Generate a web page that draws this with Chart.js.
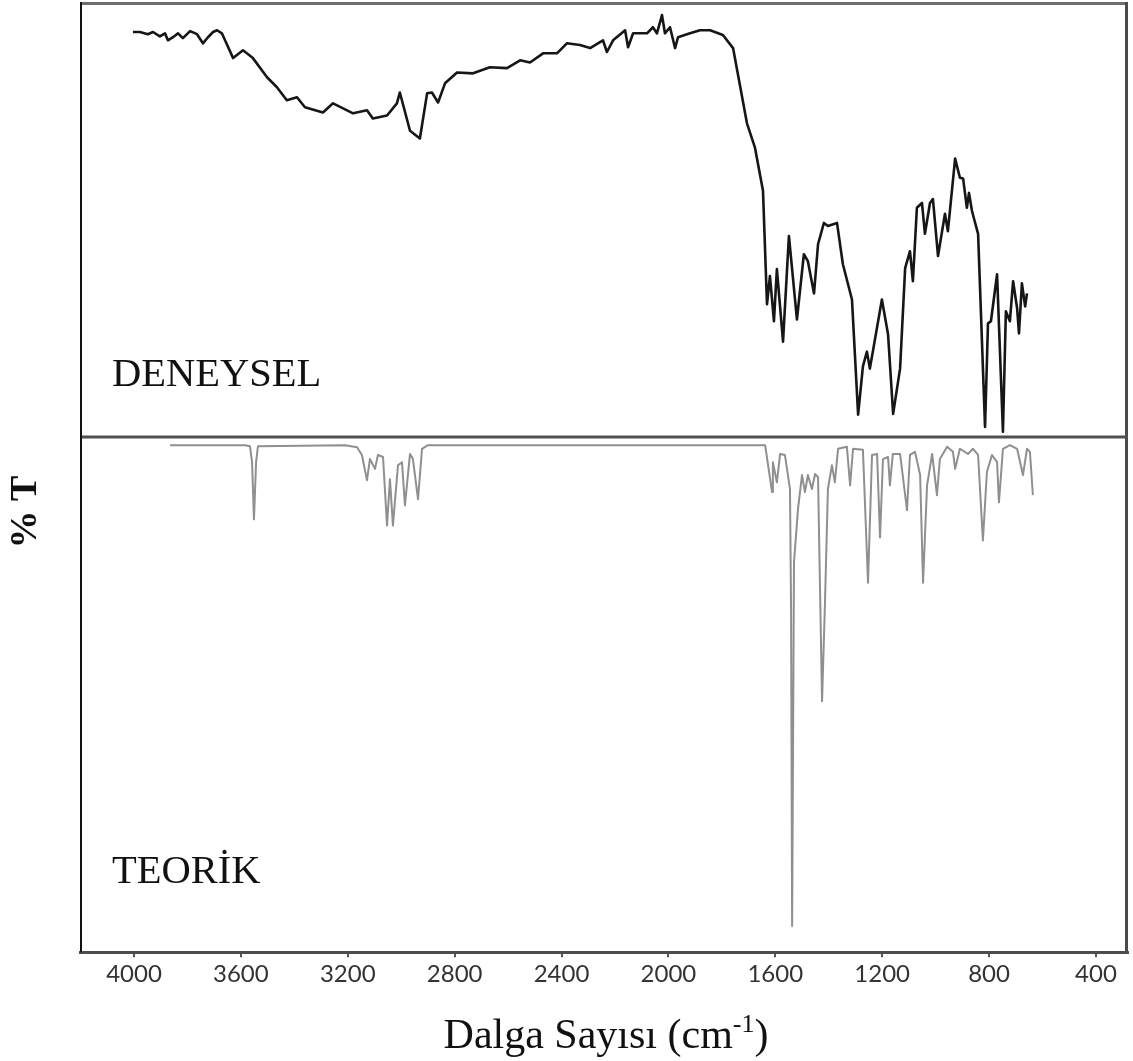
<!DOCTYPE html>
<html>
<head>
<meta charset="utf-8">
<title>IR spektrumu</title>
<script src="https://cdn.jsdelivr.net/npm/chart.js@4/dist/chart.umd.min.js"></script>
<style>
  html, body { margin: 0; padding: 0; background: #ffffff; }
  #wrap { width: 1133px; height: 1061px; position: relative; }
</style>
</head>
<body>
<div id="wrap"><canvas id="ir" width="1133" height="1061"></canvas></div>
<script>
// Wavenumber axis tick labels (cm-1)
const xTickValues = [4000, 3600, 3200, 2800, 2400, 2000, 1600, 1200, 800, 400];

// Experimental (DENEYSEL) spectrum: wavenumber (cm-1) and %T
const expWavenumber = [
  4004, 3978, 3948, 3929, 3903, 3884, 3873, 3854, 3835, 3817, 3790, 3764, 3742, 3723, 3704, 3689, 3671,
  3629, 3592, 3555, 3502, 3465, 3428, 3390, 3360, 3293, 3255, 3180, 3128, 3106, 3053, 3016, 3005,
  2967, 2930, 2903, 2885, 2862, 2836, 2791, 2731, 2668, 2604, 2555, 2518, 2469, 2417, 2380, 2331,
  2293, 2245, 2230, 2207, 2162, 2151, 2132, 2080, 2058, 2043, 2024, 2013, 1994, 1975, 1964, 1919,
  1882, 1844, 1796, 1758, 1706, 1676, 1646, 1631, 1620, 1605, 1594, 1571, 1549, 1519, 1493, 1478,
  1455, 1440, 1418, 1403, 1369, 1347, 1313, 1290, 1272, 1257, 1246, 1201, 1178, 1159, 1133, 1114,
  1096, 1085, 1070, 1051, 1040, 1021, 1010, 991, 965, 954, 927, 909, 897, 883, 875, 864, 856, 841,
  815, 804, 793, 770, 748, 737, 722, 710, 695, 688, 677, 665, 658
];
const expTransmittance = [
  93.1, 93.1, 92.6, 93.1, 92.1, 92.8, 91.2, 91.9, 92.8, 91.7, 93.3, 92.6, 90.5, 91.9, 93.1, 93.5, 92.8,
  87.1, 88.9, 87.1, 82.7, 80.4, 77.4, 78.1, 75.8, 74.6, 76.7, 74.4, 75.1, 73.2, 73.9, 76.7, 79.2,
  70.4, 68.6, 79.0, 79.2, 76.9, 81.3, 83.8, 83.6, 85.0, 84.8, 86.6, 86.1, 88.2, 88.2, 90.5, 90.1,
  89.4, 91.2, 88.5, 91.2, 93.5, 89.6, 92.8, 92.8, 94.2, 92.8, 97.0, 92.8, 94.2, 89.4, 91.9, 92.8,
  93.5, 93.5, 92.4, 89.4, 72.1, 66.5, 56.6, 30.5, 37.0, 26.6, 38.6, 21.9, 46.2, 27.0, 42.0, 40.4,
  33.0, 44.3, 49.2, 48.5, 49.2, 39.7, 31.6, 5.1, 16.2, 19.6, 15.7, 31.6, 23.6, 5.3, 15.7, 38.8,
  42.7, 35.8, 52.7, 53.8, 46.7, 53.8, 54.7, 41.6, 51.3, 47.3, 64.0, 59.6, 59.4, 52.7, 56.1, 52.0, 50.1, 46.7,
  2.3, 26.1, 26.6, 37.4, 1.2, 28.9, 26.6, 35.8, 29.6, 23.8, 35.3, 30.0, 33.0
];

// Calculated (TEORİK) spectrum: wavenumber (cm-1) and %T
const theoWavenumber = [
  3865, 3585, 3566, 3558, 3551, 3543, 3536, 3210, 3165, 3147, 3128, 3117, 3098, 3087, 3068, 3053,
  3042, 3031, 3012, 2997, 2986, 2967, 2956, 2937, 2922, 2900, 1638, 1612, 1609, 1594, 1582, 1564,
  1545, 1541, 1537, 1530, 1515, 1500, 1489, 1478, 1463, 1451, 1440, 1425, 1414, 1403, 1388, 1377,
  1365, 1332, 1320, 1309, 1272, 1253, 1238, 1219, 1208, 1197, 1178, 1171, 1160, 1133, 1107, 1096,
  1077, 1058, 1047, 1032, 1013, 995, 984, 957, 935, 927, 909, 879, 860, 841, 823, 808, 789, 770,
  763, 748, 722, 695, 673, 658, 647, 636
];
const theoTransmittance = [
  98.4, 98.4, 98.2, 95.1, 84.0, 95.1, 98.2, 98.4, 98.0, 96.5, 91.6, 95.7, 93.8, 96.5, 96.1, 82.8,
  91.8, 82.8, 94.5, 95.1, 86.7, 96.7, 95.7, 87.9, 97.7, 98.4, 98.4, 89.3, 95.1, 91.2, 96.7, 96.5,
  89.9, 67.3, 5.1, 75.6, 86.0, 92.6, 89.3, 92.6, 89.9, 92.8, 92.2, 48.7, 67.8, 89.9, 94.5, 91.2,
  97.7, 98.1, 90.6, 97.7, 97.5, 71.7, 96.5, 96.7, 80.5, 95.7, 96.1, 90.6, 96.7, 96.7, 85.8, 96.5,
  97.1, 92.6, 71.7, 90.6, 96.7, 88.7, 95.7, 98.1, 97.1, 93.8, 97.7, 96.7, 97.7, 96.5, 79.9, 93.2, 96.5, 95.1,
  87.3, 97.7, 98.4, 97.7, 92.6, 97.7, 97.1, 88.7
];

const toPoints = (xs, ys) => xs.map((x, i) => ({ x: x, y: ys[i] }));

// Frame, panel divider and text annotations
const spectrumDecor = {
  id: 'spectrumDecor',
  afterDatasetsDraw(chart) {
    const { ctx, chartArea: a, scales } = chart;
    const split = scales.yExp.bottom;
    ctx.save();
    ctx.lineCap = 'butt';
    // top border
    ctx.strokeStyle = '#6e6e6e';
    ctx.lineWidth = 3;
    ctx.beginPath(); ctx.moveTo(a.left, a.top + 1.5); ctx.lineTo(a.right, a.top + 1.5); ctx.stroke();
    // right border
    ctx.strokeStyle = '#4a4a4a';
    ctx.beginPath(); ctx.moveTo(a.right - 1.5, a.top); ctx.lineTo(a.right - 1.5, a.bottom); ctx.stroke();
    // panel divider
    ctx.strokeStyle = '#505050';
    ctx.beginPath(); ctx.moveTo(a.left, split); ctx.lineTo(a.right, split); ctx.stroke();
    // left border
    ctx.strokeStyle = '#111111';
    ctx.lineWidth = 2;
    ctx.beginPath(); ctx.moveTo(a.left + 1, a.top); ctx.lineTo(a.left + 1, a.bottom); ctx.stroke();

    // panel labels
    ctx.fillStyle = '#111111';
    ctx.font = '40.5px "Liberation Serif", "Times New Roman", serif';
    ctx.textAlign = 'left';
    ctx.textBaseline = 'alphabetic';
    ctx.fillText('DENEYSEL', a.left + 32, split - 51);
    ctx.fillText('TEORİK', a.left + 32, a.bottom - 69);

    // y axis title
    ctx.save();
    ctx.translate(26, (a.top + a.bottom) / 2 + 35);
    ctx.rotate(-Math.PI / 2);
    ctx.textAlign = 'center';
    ctx.textBaseline = 'middle';
    ctx.font = 'bold 38px "Liberation Serif", "Times New Roman", serif';
    ctx.fillText('% T', 0, 0);
    ctx.restore();

    // x axis title with superscript
    const base = 1048;
    const main1 = 'Dalga Sayısı (cm';
    const sup = '-1';
    const main2 = ')';
    const bigFont = '42px "Liberation Serif", "Times New Roman", serif';
    const smallFont = '26px "Liberation Serif", "Times New Roman", serif';
    ctx.font = bigFont;
    const w1 = ctx.measureText(main1).width;
    const w3 = ctx.measureText(main2).width;
    ctx.font = smallFont;
    const w2 = ctx.measureText(sup).width;
    const total = w1 + w2 + w3;
    const x0 = 606 - total / 2;
    ctx.textAlign = 'left';
    ctx.font = bigFont;
    ctx.fillText(main1, x0, base);
    ctx.font = smallFont;
    ctx.fillText(sup, x0 + w1, base - 16);
    ctx.font = bigFont;
    ctx.fillText(main2, x0 + w1 + w2, base);
    ctx.restore();
  }
};

new Chart(document.getElementById('ir'), {
  type: 'line',
  data: {
    datasets: [
      {
        label: 'DENEYSEL',
        data: toPoints(expWavenumber, expTransmittance),
        yAxisID: 'yExp',
        borderColor: '#161616',
        borderWidth: 2.6,
        pointRadius: 0,
        tension: 0,
        borderJoinStyle: 'round'
      },
      {
        label: 'TEORİK',
        data: toPoints(theoWavenumber, theoTransmittance),
        yAxisID: 'yTheo',
        borderColor: '#8f8f8f',
        borderWidth: 2,
        pointRadius: 0,
        tension: 0,
        borderJoinStyle: 'round'
      }
    ]
  },
  options: {
    responsive: false,
    animation: false,
    devicePixelRatio: 1,
    layout: { padding: { left: 80, right: 5, top: 2, bottom: 69 } },
    plugins: { legend: { display: false }, tooltip: { enabled: false }, title: { display: false } },
    scales: {
      x: {
        type: 'linear',
        reverse: true,
        min: 280,
        max: 4202,
        afterBuildTicks: (scale) => { scale.ticks = xTickValues.map(v => ({ value: v })); },
        grid: { drawOnChartArea: false, drawTicks: true, tickLength: 5, color: '#555555', lineWidth: 2 },
        border: { display: true, color: '#4d4d4d', width: 3 },
        ticks: {
          autoSkip: false, maxRotation: 0, padding: 3, color: '#333333',
          font: { family: 'Lato', size: 24 },
          callback: (v) => String(v)
        }
      },
      yExp: {
        type: 'linear', position: 'right', stack: 'spectra', stackWeight: 433,
        min: 0, max: 100, display: false
      },
      yTheo: {
        type: 'linear', position: 'right', stack: 'spectra', stackWeight: 513,
        min: 0, max: 100, display: false
      }
    }
  },
  plugins: [spectrumDecor]
});
</script>
</body>
</html>
